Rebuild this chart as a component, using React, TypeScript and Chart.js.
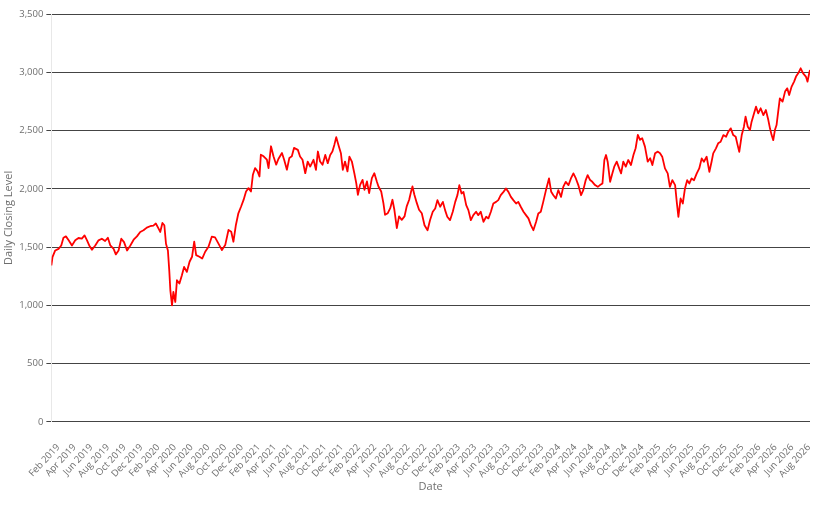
import { useEffect, useRef } from "react";
import { Chart, registerables } from "chart.js";

Chart.register(...registerables);

// days counted from 2019-01-01
const dayOffsets = [
  6, 10, 20, 32, 42, 50, 59, 69, 81, 93, 105, 117, 127, 136, 144, 154, 166, 178, 190, 202,
  212, 221, 233, 241, 251, 261, 271, 282, 294, 306, 318, 330, 342, 354, 366, 378, 387, 397, 403, 411,
  418, 424, 431, 436, 440, 446, 451, 458, 464, 473, 482, 490, 500, 510, 519, 527, 534, 546, 556, 567,
  579, 591, 603, 615, 628, 640, 652, 662, 670, 679, 688, 698, 707, 716, 725, 734, 741, 749, 758, 765,
  770, 780, 792, 798, 807, 816, 826, 834, 847, 855, 865, 874, 883, 891, 905, 913, 922, 932, 941, 950,
  962, 971, 978, 986, 995, 1005, 1014, 1023, 1031, 1038, 1045, 1053, 1062, 1069, 1077, 1086, 1093, 1102, 1111, 1118,
  1124, 1132, 1141, 1148, 1157, 1165, 1175, 1184, 1193, 1199, 1209, 1217, 1223, 1233, 1242, 1250, 1257, 1266, 1274, 1284,
  1294, 1302, 1311, 1318, 1323, 1330, 1339, 1347, 1357, 1367, 1378, 1387, 1397, 1406, 1414, 1424, 1434, 1442, 1450, 1460,
  1470, 1479, 1487, 1494, 1502, 1509, 1519, 1527, 1536, 1545, 1555, 1563, 1572, 1582, 1592, 1600, 1609, 1618, 1628, 1636,
  1645, 1655, 1664, 1673, 1682, 1691, 1701, 1709, 1718, 1728, 1737, 1746, 1755, 1764, 1774, 1782, 1791, 1800, 1810, 1821,
  1829, 1837, 1846, 1855, 1865, 1873, 1882, 1892, 1901, 1910, 1919, 1928, 1938, 1946, 1955, 1962, 1971, 1979, 1989, 1999,
  2007, 2016, 2023, 2029, 2035, 2044, 2052, 2059, 2068, 2077, 2084, 2092, 2101, 2110, 2120, 2129, 2137, 2145, 2153, 2161,
  2171, 2181, 2190, 2198, 2208, 2218, 2226, 2234, 2244, 2254, 2262, 2271, 2281, 2287, 2293, 2301, 2309, 2317, 2325, 2333,
  2341, 2350, 2360, 2369, 2378, 2386, 2396, 2406, 2414, 2420, 2430, 2438, 2447, 2457, 2467, 2475, 2484, 2493, 2502, 2509,
  2515, 2524, 2532, 2538, 2546, 2554, 2560, 2569, 2576, 2584, 2593, 2603, 2612, 2621, 2627, 2633, 2639, 2645, 2651, 2657,
  2663, 2673, 2682, 2690, 2697, 2706, 2715, 2722, 2730, 2739, 2748, 2758, 2764, 2770, 2773,
];

const closingLevels = [
  1342, 1414, 1471, 1485, 1514, 1580, 1592, 1558, 1514, 1558, 1578, 1572, 1600, 1558, 1514, 1477, 1514, 1558, 1572, 1552,
  1580, 1514, 1485, 1437, 1471, 1572, 1543, 1471, 1514, 1563, 1592, 1630, 1644, 1667, 1679, 1684, 1702, 1658, 1630, 1707,
  1687, 1529, 1471, 1298, 1126, 1000, 1115, 1029, 1216, 1187, 1259, 1330, 1287, 1374, 1417, 1546, 1431, 1417, 1402, 1460,
  1503, 1589, 1583, 1532, 1474, 1517, 1647, 1632, 1546, 1690, 1790, 1848, 1905, 1977, 2006, 1977, 2121, 2178, 2150, 2106,
  2293, 2279, 2250, 2178, 2365, 2279, 2207, 2256, 2308, 2250, 2164, 2265, 2279, 2351, 2334, 2277, 2249, 2134, 2234, 2191,
  2249, 2163, 2320, 2234, 2206, 2291, 2220, 2291, 2320, 2377, 2443, 2377, 2306, 2163, 2234, 2149, 2277, 2234, 2134, 2049,
  1949, 2034, 2077, 1991, 2063, 1963, 2091, 2134, 2063, 2020, 1977, 1877, 1777, 1791, 1834, 1906, 1820, 1663, 1763, 1734,
  1763, 1849, 1906, 1977, 2020, 1949, 1877, 1820, 1790, 1688, 1645, 1731, 1803, 1831, 1903, 1846, 1888, 1817, 1760, 1731,
  1803, 1888, 1946, 2031, 1960, 1974, 1860, 1817, 1731, 1774, 1803, 1774, 1803, 1717, 1760, 1746, 1803, 1874, 1888, 1903,
  1946, 1974, 2003, 1974, 1931, 1903, 1874, 1888, 1846, 1803, 1774, 1746, 1688, 1645, 1717, 1788, 1803, 1888, 1989, 2089,
  1974, 1945, 1917, 1989, 1931, 2017, 2060, 2032, 2089, 2132, 2089, 2032, 1945, 1989, 2075, 2118, 2075, 2060, 2032, 2017,
  2032, 2046, 2247, 2290, 2233, 2060, 2132, 2190, 2233, 2175, 2132, 2233, 2190, 2247, 2204, 2290, 2348, 2463, 2420, 2434,
  2362, 2233, 2262, 2204, 2305, 2319, 2305, 2276, 2175, 2132, 2017, 2075, 2032, 1888, 1759, 1917, 1874, 2003, 2074, 2046,
  2089, 2074, 2132, 2175, 2261, 2232, 2275, 2146, 2232, 2304, 2347, 2390, 2404, 2461, 2447, 2490, 2519, 2461, 2447, 2375,
  2318, 2461, 2533, 2619, 2533, 2504, 2576, 2648, 2705, 2648, 2691, 2633, 2676, 2590, 2519, 2461, 2418, 2504, 2547, 2662,
  2776, 2748, 2834, 2862, 2805, 2877, 2920, 2963, 2991, 3034, 2991, 2963, 2920, 2991, 3020,
];

const monthNames = ["Jan", "Feb", "Mar", "Apr", "May", "Jun", "Jul", "Aug", "Sep", "Oct", "Nov", "Dec"];

// every other month, Feb 2019 .. Aug 2026
const tickDays: number[] = [];
const tickLabels: string[] = [];
for (let y = 2019, m = 1; y < 2026 || (y === 2026 && m <= 7); ) {
  tickDays.push((Date.UTC(y, m, 1) - Date.UTC(2019, 0, 1)) / 86400000);
  tickLabels.push(`${monthNames[m]} ${y}`);
  m += 2;
  if (m > 11) {
    m -= 12;
    y += 1;
  }
}

const textColor = "#6e6e6e";
const fontFamily = "'Open Sans', sans-serif";

export default function App() {
  const chartRef = useRef<HTMLCanvasElement>(null);

  useEffect(() => {
    if (!chartRef.current) return;
    const chart = new Chart(chartRef.current, {
      type: "line",
      data: {
        datasets: [
          {
            data: dayOffsets.map((d, i) => ({ x: d, y: closingLevels[i] })),
            borderColor: "#ff0000",
            borderWidth: 1.8,
            borderJoinStyle: "round",
            pointRadius: 0,
            tension: 0,
          },
        ],
      },
      options: {
        animation: false,
        responsive: true,
        maintainAspectRatio: false,
        plugins: {
          legend: { display: false },
          tooltip: { enabled: false },
        },
        layout: { padding: { top: 14, right: 25, left: 2, bottom: 8 } },
        scales: {
          x: {
            type: "linear",
            min: dayOffsets[0],
            max: dayOffsets[dayOffsets.length - 1],
            afterBuildTicks: (axis) => {
              axis.ticks = tickDays.map((v) => ({ value: v }));
            },
            ticks: {
              autoSkip: false,
              minRotation: 47,
              maxRotation: 47,
              padding: 12,
              color: textColor,
              font: { family: fontFamily, size: 9.5 },
              callback: (_v, i) => tickLabels[i],
            },
            grid: { display: false },
            border: { display: false },
            title: {
              display: true,
              text: "Date",
              color: textColor,
              font: { family: fontFamily, size: 11 },
              padding: { top: -12 },
            },
          },
          y: {
            min: 0,
            max: 3500,
            ticks: {
              stepSize: 500,
              padding: 3,
              color: textColor,
              font: { family: fontFamily, size: 9.5 },
              callback: (v) => Number(v).toLocaleString("en-US"),
            },
            grid: { color: "#444", tickLength: 5 },
            border: { color: "#e8e8e8" },
            title: {
              display: true,
              text: "Daily Closing Level",
              color: textColor,
              font: { family: fontFamily, size: 11 },
              padding: { top: 0, bottom: 1 },
            },
          },
        },
      },
    });
    return () => chart.destroy();
  }, []);

  return (
    <div style={{ position: "fixed", left: 0, top: 0, width: 835, height: 505, background: "#fff" }}>
      <canvas ref={chartRef}></canvas>
    </div>
  );
}
